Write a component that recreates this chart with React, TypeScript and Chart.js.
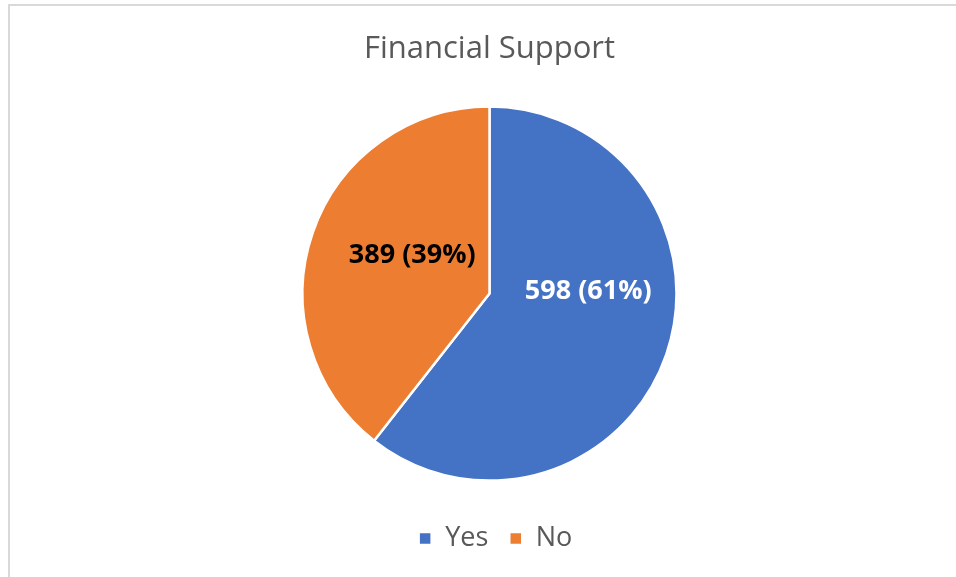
import React, { useEffect, useRef } from "react";
import { Chart, registerables } from "chart.js";

Chart.register(...registerables);

const categories = ["Yes", "No"];
const counts = [598, 389];
const percentLabels = ["61%", "39%"];
const sliceColors = ["#4472C4", "#ED7D31"];
const labelColors = ["#FFFFFF", "#000000"];
// label offset from pie centre, as fraction of radius
const labelOffsets = [
  [0.528, -0.013],
  [-0.413, -0.206],
];

const FONT = "'Open Sans', 'DejaVu Sans', sans-serif";

const labelPlugin = {
  id: "sliceLabels",
  afterLayout(chart: any) {
    // nudge the legend slightly right, as in the reference
    if (chart.legend) {
      chart.legend.left += 6;
      chart.legend.right += 6;
    }
  },
  afterDatasetsDraw(chart: any) {
    const ctx = chart.ctx;
    const meta = chart.getDatasetMeta(0);
    meta.data.forEach((arc: any, i: number) => {
      const { x, y, outerRadius } = arc.getProps(["x", "y", "outerRadius"], true);
      const tx = x + labelOffsets[i][0] * outerRadius;
      const ty = y + labelOffsets[i][1] * outerRadius;
      ctx.save();
      ctx.font = `bold 27px ${FONT}`;
      ctx.fillStyle = labelColors[i];
      ctx.textAlign = "center";
      ctx.textBaseline = "middle";
      ctx.fillText(`${counts[i]} (${percentLabels[i]})`, tx, ty);
      ctx.restore();
    });
  },
};

export default function App() {
  const ref = useRef<HTMLCanvasElement>(null);
  useEffect(() => {
    if (!ref.current) return;
    const chart = new Chart(ref.current, {
      type: "pie",
      data: {
        labels: categories,
        datasets: [
          {
            data: counts,
            backgroundColor: sliceColors,
            borderColor: "#FFFFFF",
            borderWidth: 2.5,
            radius: 187,
          } as any,
        ],
      },
      options: {
        responsive: false,
        animation: false,
        layout: { padding: { left: 23, right: 0, top: 0, bottom: 15 } },
        plugins: {
          title: {
            display: true,
            text: "Financial Support",
            color: "#595959",
            font: { family: FONT, size: 31, weight: "normal" },
            padding: { top: 31, bottom: 15 },
          },
          legend: {
            display: true,
            position: "bottom",
            labels: {
              color: "#595959",
              font: { family: FONT, size: 27 },
              boxWidth: 13,
              boxHeight: 13,
              padding: 21,
            },
          },
          tooltip: { enabled: false },
        },
      },
      plugins: [labelPlugin],
    });
    return () => chart.destroy();
  }, []);

  return (
    <div style={{ position: "fixed", left: 0, top: 0, width: 956, height: 577, background: "#fff", overflow: "hidden" }}>
      <div style={{ position: "absolute", left: 8, top: 4, width: 948, height: 2, background: "#D9D9D9" }} />
      <div style={{ position: "absolute", left: 8, top: 4, width: 2, height: 573, background: "#D9D9D9" }} />
      <canvas ref={ref} width={956} height={577} style={{ position: "absolute", left: 0, top: 0 }} />
    </div>
  );
}
